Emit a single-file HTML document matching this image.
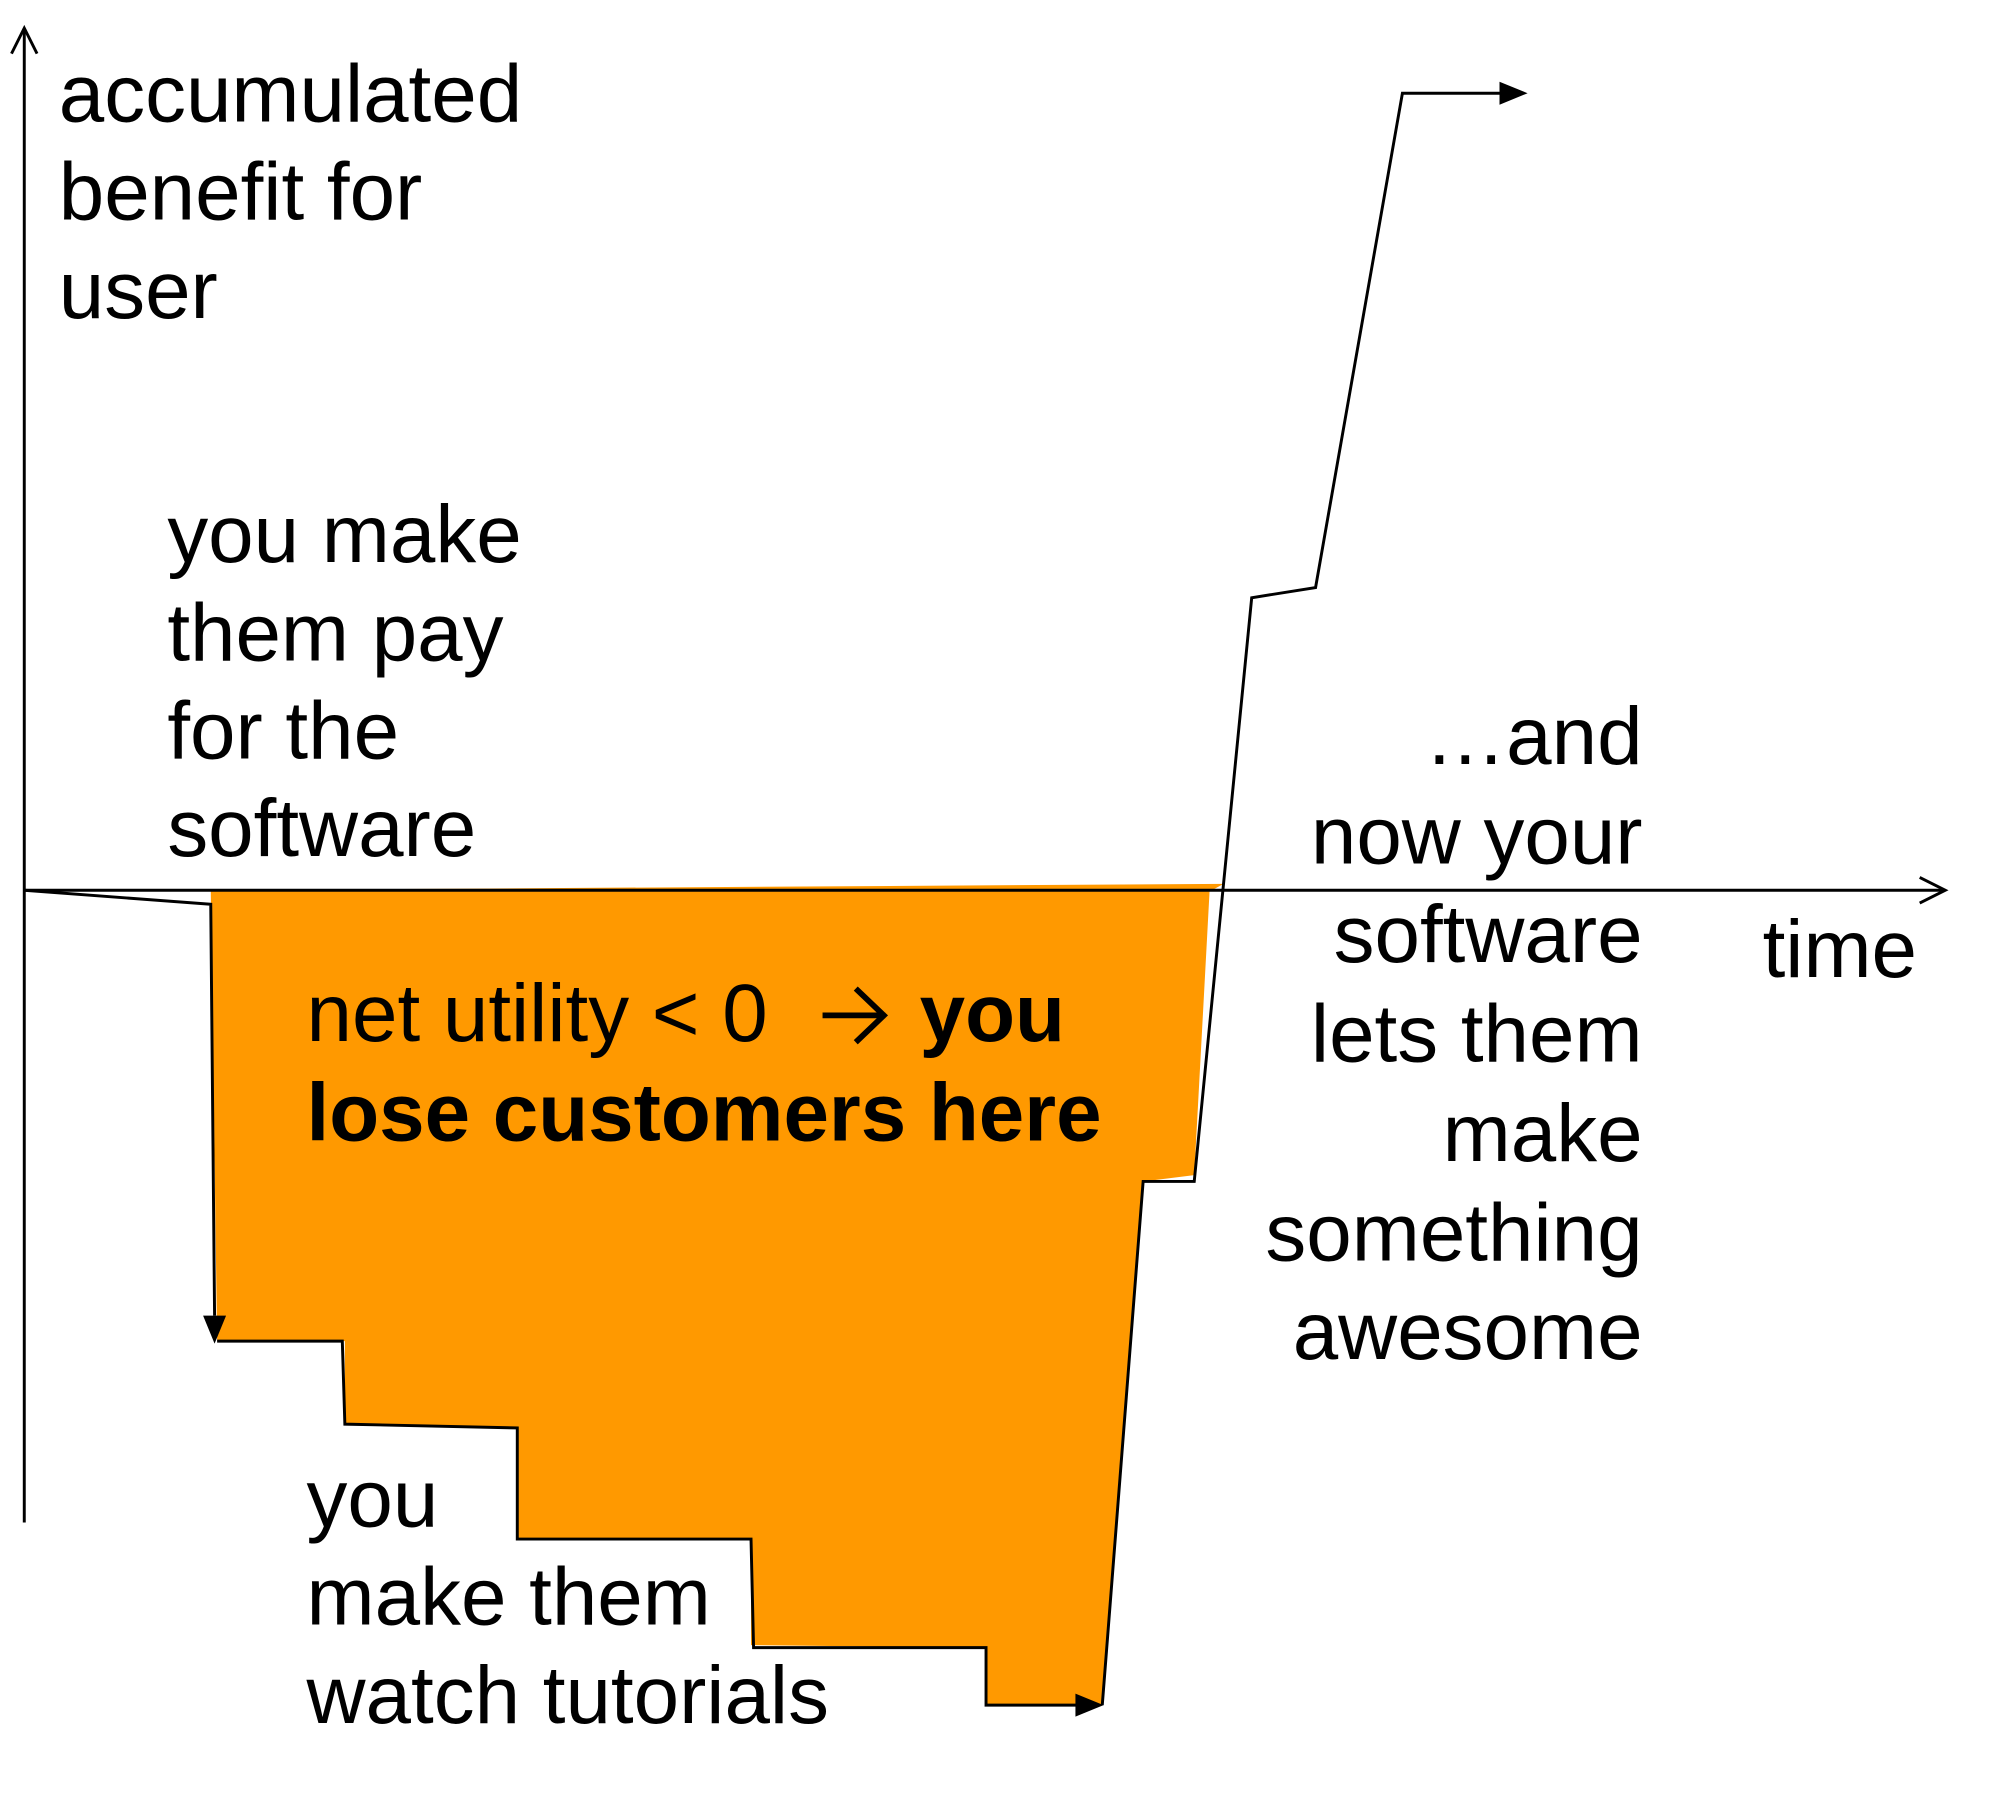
<!DOCTYPE html>
<html><head><meta charset="utf-8"><style>
html,body{margin:0;padding:0;background:#fff;}
svg{display:block;}
text{font-family:"Liberation Sans",Arial,sans-serif;font-size:64px;fill:#000;}
</style></head><body>
<svg width="2004" height="1793" viewBox="0 0 1569 1403.8" xmlns="http://www.w3.org/2000/svg">
<polygon points="165,697 958,692 947,698 935,920 895,925 863,1335 772,1335 772,1290 588,1288 588,1205 405,1205 405,1118 270,1115 270,1050 170,1050" fill="#FF9900"/>
<g stroke="#000" stroke-width="2.3" fill="none">
<line x1="19" y1="1192" x2="19" y2="22"/>
<polyline points="9,42 19,22 29,42"/>
<line x1="19" y1="697" x2="1523" y2="697"/>
<polyline points="1503,687 1523,697 1503,707"/>
<polyline points="19,697 165,708 168,1030"/>
<polyline points="170,1050 268,1050 270,1115 405,1118 405,1205 588,1205 590,1290 772,1290 772,1335 845,1335"/>
<polyline points="863,1335 895,925 935,925 980,468 1030,460 1098,73 1178,73"/>
<g stroke-width="4.5"><line x1="644" y1="795" x2="693" y2="795"/><polyline points="670,774 692,795 670,816"/></g>
</g>
<polygon points="159,1030 177,1030 168,1052" fill="#000"/>
<polygon points="842,1326 842,1344 864,1335" fill="#000"/>
<polygon points="1174,64 1174,82 1196,73" fill="#000"/>
<text x="46" y="95">accumulated</text>
<text x="46" y="172">benefit for</text>
<text x="46" y="249">user</text>
<text x="131" y="440">you make</text>
<text x="131" y="517">them pay</text>
<text x="131" y="594">for the</text>
<text x="131" y="670">software</text>
<g text-anchor="end">
<text x="1286" y="598">…and</text>
<text x="1286" y="676">now your</text>
<text x="1286" y="753">software</text>
<text x="1286" y="831">lets them</text>
<text x="1286" y="909">make</text>
<text x="1286" y="987">something</text>
<text x="1286" y="1064">awesome</text>
</g>
<text x="1380" y="765">time</text>
<text x="240" y="815">net utility &lt; 0</text>
<text x="720" y="815" font-weight="bold">you</text>
<text x="240" y="893" font-weight="bold">lose customers here</text>
<text x="240" y="1195">you</text>
<text x="240" y="1272">make them</text>
<text x="240" y="1349">watch tutorials</text>
</svg>
</body></html>
